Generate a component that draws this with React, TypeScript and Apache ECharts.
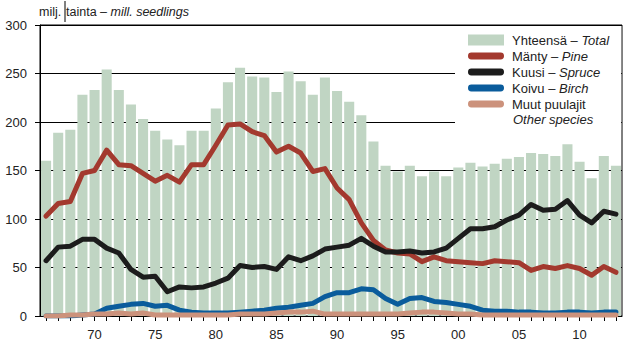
import React, { useEffect, useRef } from "react";
import * as echarts from "echarts";

const years: string[] = [];
for (let y = 1966; y <= 2013; y++) years.push(String(y));

const total = [160, 189, 192, 228, 233, 254, 233, 218, 203, 191, 182, 176, 191, 191, 214, 241, 256, 247, 246, 231, 252, 242, 228, 246, 232, 221, 207, 180, 155, 149, 155, 144, 149, 144, 153, 158, 154, 157, 162, 164, 168, 167, 165, 177, 159, 142, 165, 155];
const pine = [103, 116, 118, 147, 150, 171, 156, 155, 147, 139, 145, 138, 156, 156, 176, 197, 198, 190, 186, 169, 175, 168, 149, 152, 132, 120, 96, 78, 68, 65, 64, 56, 61, 57, 56, 55, 54, 57, 56, 55, 47, 51, 49, 52, 49, 42, 51, 45];
const spruce = [57, 71, 72, 79, 79, 70, 65, 48, 40, 41, 25, 30, 29, 30, 34, 39, 52, 50, 51, 48, 61, 57, 62, 69, 71, 73, 80, 72, 66, 66, 67, 65, 66, 70, 80, 90, 90, 92, 99, 104, 115, 109, 110, 119, 104, 96, 108, 105];
const birch = [0, 0, 0, 1, 2, 8, 10, 12, 13, 10, 11, 6, 4, 3, 3, 3, 4, 5, 6, 8, 9, 11, 13, 20, 24, 24, 28, 27, 18, 12, 18, 19, 15, 14, 12, 10, 6, 5, 5, 4, 4, 3, 3, 4, 4, 3, 4, 4];
const other = [0, 0, 1, 1, 2, 2, 3, 2, 3, 1, 1, 1, 1, 1, 1, 1, 2, 2, 2, 3, 4, 4, 5, 2, 2, 2, 2, 2, 2, 2, 3, 4, 4, 3, 2, 2, 1, 1, 1, 1, 1, 1, 1, 1, 1, 1, 1, 1];

const seriesNames = ["Yhteensä – Total", "Mänty – Pine", "Kuusi – Spruce", "Koivu – Birch", "Muut puulajit"];
const legendLabels: Record<string, string> = {
  "Yhteensä – Total": "Yhteensä – {i|Total}",
  "Mänty – Pine": "Mänty – {i|Pine}",
  "Kuusi – Spruce": "Kuusi – {i|Spruce}",
  "Koivu – Birch": "Koivu – {i|Birch}",
  "Muut puulajit": "Muut puulajit",
};

const FONT = "'Liberation Sans', Arial, sans-serif";
const colors = { total: "#c0d5c3", pine: "#a3392e", spruce: "#1c1c1c", birch: "#0a5c9c", other: "#cc927c" };
// thin rounded bar inside a 36x11 box (moveTo points pad the bounding box)
const LINE_ICON = "path://M0,0M36,11M3,2L33,2A3.5,3.5 0 0 1 33,9L3,9A3.5,3.5 0 0 1 3,2Z";

export default function App() {
  const ref = useRef<HTMLDivElement>(null);
  useEffect(() => {
    document.body.style.margin = "0";
    if (!ref.current) return;
    const chart = echarts.init(ref.current, undefined, { renderer: "svg" });
    const lineSeries = (name: string, data: number[], color: string) => ({
      name,
      type: "line",
      data,
      symbol: "none",
      lineStyle: { color, width: 5, cap: "round", join: "round" },
      itemStyle: { color },
      z: 3,
    });
    chart.setOption({
      animation: false,
      textStyle: { fontFamily: FONT },
      grid: { left: 40, right: 12, top: 25, bottom: 43, show: true, borderColor: "#000", borderWidth: 1, backgroundColor: "transparent" },
      xAxis: {
        type: "category",
        data: years,
        boundaryGap: true,
        axisLine: { lineStyle: { color: "#000", width: 1 } },
        axisTick: { show: true, alignWithLabel: true, interval: 0, length: 5, lineStyle: { color: "#000" } },
        axisLabel: {
          interval: (idx: number, val: string) => Number(val) % 5 === 0,
          formatter: (val: string) => val.slice(2),
          color: "#222",
          fontSize: 13,
          fontFamily: FONT,
          margin: 12,
        },
        splitLine: { show: false },
      },
      yAxis: {
        type: "value",
        min: 0,
        max: 300,
        interval: 50,
        axisLine: { show: true, lineStyle: { color: "#000", width: 1 } },
        axisTick: { show: true, length: 5, lineStyle: { color: "#000" } },
        axisLabel: { color: "#222", fontSize: 13, fontFamily: FONT, margin: 13 },
        splitLine: { show: true, lineStyle: { color: "#000", width: 1 } },
      },
      legend: {
        orient: "vertical",
        left: 455,
        top: 26,
        data: [
          { name: seriesNames[0], icon: "rect" },
          { name: seriesNames[1], icon: LINE_ICON },
          { name: seriesNames[2], icon: LINE_ICON },
          { name: seriesNames[3], icon: LINE_ICON },
          { name: seriesNames[4], icon: LINE_ICON },
        ],
        backgroundColor: "#fff",
        padding: [6, 12, 18, 13],
        itemWidth: 36,
        itemHeight: 11,
        itemGap: 0,
        selectedMode: false,
        itemStyle: { borderWidth: 0 },
        formatter: (name: string) => legendLabels[name] || name,
        textStyle: {
          fontSize: 13,
          fontFamily: FONT,
          color: "#222",
          lineHeight: 16,
          padding: [0, 0, 0, 3],
          rich: { i: { fontStyle: "italic", fontSize: 13, fontFamily: FONT, color: "#222", lineHeight: 16 } },
        },
      },
      graphic: [
        {
          type: "text",
          left: 39,
          top: 5,
          style: { text: "milj.", fontSize: 12.5, fontFamily: FONT, fill: "#222" },
        },
        {
          type: "text",
          left: 66,
          top: 5,
          style: {
            text: "tainta – {i|mill. seedlings}",
            fontSize: 12.5,
            fontFamily: FONT,
            fill: "#222",
            rich: { i: { fontStyle: "italic", fontSize: 12.5, fontFamily: FONT, fill: "#222" } },
          },
        },
        { type: "line", shape: { x1: 65, y1: 1, x2: 65, y2: 22 }, style: { stroke: "#000", lineWidth: 1 } },
        {
          type: "text",
          left: 513,
          top: 113,
          z: 100,
          style: { text: "Other species", fontSize: 13, fontStyle: "italic", fontFamily: FONT, fill: "#222" },
        },
      ],
      series: [
        { name: seriesNames[0], type: "bar", data: total, barCategoryGap: "17%", itemStyle: { color: colors.total }, z: 2 },
        lineSeries(seriesNames[1], pine, colors.pine),
        lineSeries(seriesNames[2], spruce, colors.spruce),
        lineSeries(seriesNames[3], birch, colors.birch),
        lineSeries(seriesNames[4], other, colors.other),
      ],
    });
    return () => chart.dispose();
  }, []);
  return <div ref={ref} style={{ width: 634, height: 359 }} />;
}
